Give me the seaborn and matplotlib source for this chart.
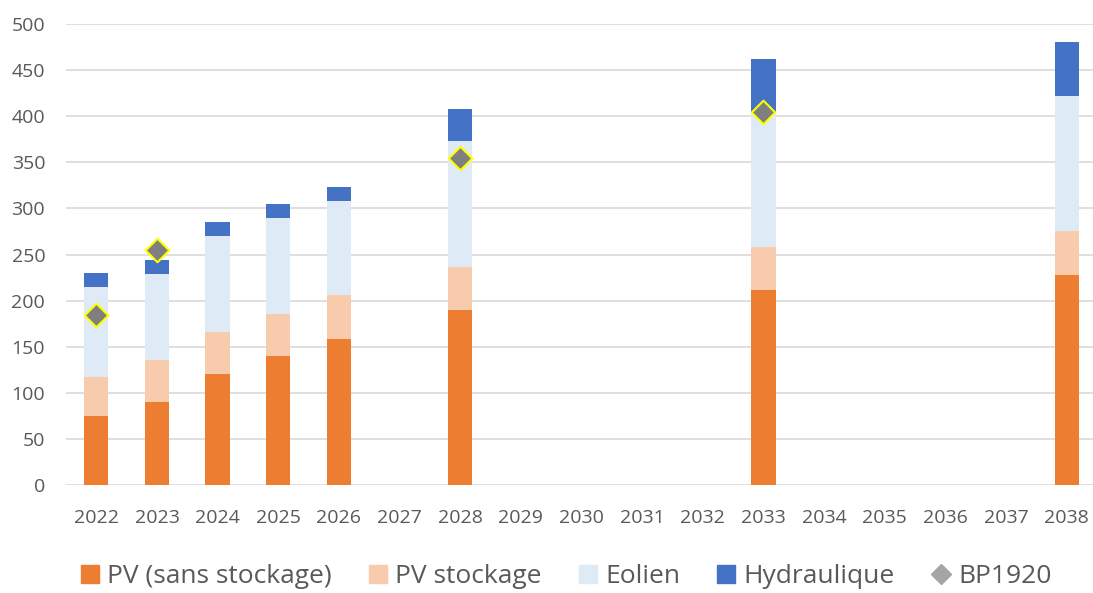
import matplotlib
matplotlib.use("Agg")
import matplotlib.pyplot as plt
import seaborn as sns
import pandas as pd
import numpy as np
from matplotlib.lines import Line2D

years = [str(y) for y in range(2022, 2039)]
data_years = ["2022", "2023", "2024", "2025", "2026", "2028", "2033", "2038"]
pv_sans = [75, 90, 120, 140, 158, 190, 211, 228]
pv_stock = [42, 46, 46, 46, 48, 46, 47, 48]
eolien = [98, 93, 104, 104, 102, 137, 147, 146]
hydro = [15, 15, 15, 15, 15, 35, 57, 58]
bp_years = ["2022", "2023", "2028", "2033"]
bp1920 = [184, 255, 355, 405]

labels = ["PV (sans stockage)", "PV stockage", "Eolien", "Hydraulique", "BP1920"]
colors = ["#ED7D31", "#F8CBAD", "#DEEBF7", "#4472C4"]
grey_txt = "#595959"

sns.set_theme(style="white")
plt.rcParams["font.family"] = ["Open Sans", "DejaVu Sans"]

df = pd.DataFrame({"year": data_years, "pv": pv_sans, "st": pv_stock,
                   "eo": eolien, "hy": hydro})
df["c1"] = df["pv"]
df["c2"] = df["c1"] + df["st"]
df["c3"] = df["c2"] + df["eo"]
df["c4"] = df["c3"] + df["hy"]
bp = pd.DataFrame({"year": bp_years, "bp": bp1920})

fig = plt.figure(figsize=(10.93, 5.93), dpi=100)
ax = fig.add_axes([66 / 1093, 108 / 593, 1031 / 1093, 461 / 593])

for col, c in zip(["c4", "c3", "c2", "c1"], colors[::-1]):
    sns.barplot(data=df, x="year", y=col, order=years, color=c, width=0.4,
                saturation=1, ax=ax, edgecolor="none", linewidth=0, zorder=2)

sns.stripplot(data=bp, x="year", y="bp", order=years, jitter=False,
              marker="D", size=12, color="#7F7F7F", edgecolor="#FFFF00",
              linewidth=1.5, ax=ax, zorder=5)

ax.set_ylim(0, 500)
ax.set_xlim(-0.5, len(years) - 0.5)
ax.set_yticks(range(0, 501, 50))
ax.yaxis.grid(True, color="#D9D9D9", linewidth=1.2)
ax.set_axisbelow(True)
for s in ax.spines.values():
    s.set_visible(False)
ax.set_xlabel("")
ax.set_ylabel("")
ax.tick_params(axis="x", length=0, pad=17, labelsize=14, labelcolor=grey_txt)
ax.tick_params(axis="y", length=0, pad=15, labelsize=14, labelcolor=grey_txt)

handles = [Line2D([], [], marker="s", linestyle="none", markersize=13,
                  markerfacecolor=c, markeredgecolor=c) for c in colors]
handles.append(Line2D([], [], marker="D", linestyle="none", markersize=10,
                      markerfacecolor="#A5A5A5", markeredgecolor="#A5A5A5"))
fig.legend(handles, labels, loc="center", bbox_to_anchor=(0.518, 0.027),
           ncol=5, frameon=False, fontsize=19, labelcolor=grey_txt,
           handlelength=0.7, handletextpad=0.3, columnspacing=1.4,
           borderpad=0, borderaxespad=0)

fig.savefig("out.png", dpi=100)
